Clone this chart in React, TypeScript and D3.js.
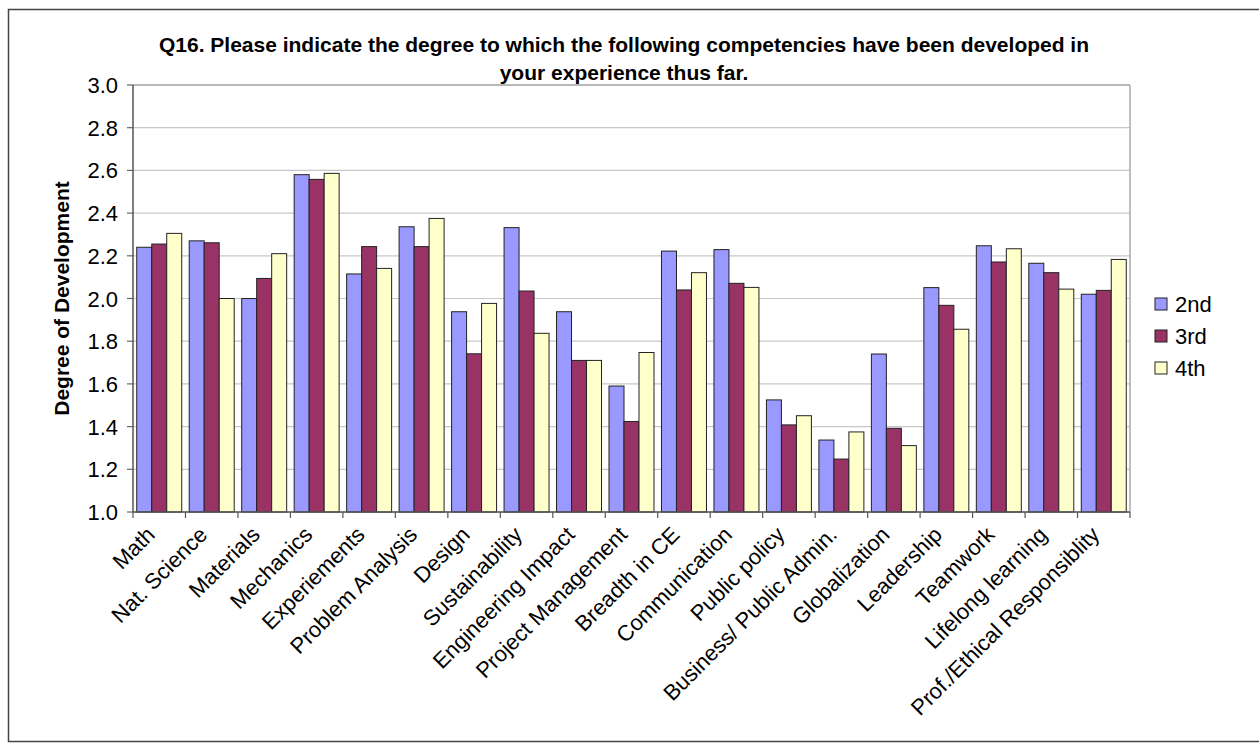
import React from "react";
import * as d3 from "d3";

const categories = [
  "Math", "Nat. Science", "Materials", "Mechanics", "Experiements", "Problem Analysis",
  "Design", "Sustainability", "Engineering Impact", "Project Management", "Breadth in CE",
  "Communication", "Public policy", "Business/ Public Admin.", "Globalization", "Leadership",
  "Teamwork", "Lifelong learning", "Prof./Ethical Responsiblity",
];
const seriesNames = ["2nd", "3rd", "4th"];
const values2nd = [2.24, 2.27, 2.0, 2.58, 2.115, 2.336, 1.938, 2.332, 1.938, 1.59, 2.222, 2.229, 1.525, 1.337, 1.74, 2.051, 2.247, 2.165, 2.02];
const values3rd = [2.255, 2.261, 2.094, 2.558, 2.243, 2.243, 1.741, 2.035, 1.71, 1.424, 2.04, 2.071, 1.408, 1.248, 1.392, 1.968, 2.171, 2.121, 2.038];
const values4th = [2.305, 2.0, 2.21, 2.586, 2.141, 2.375, 1.977, 1.837, 1.71, 1.747, 2.121, 2.052, 1.451, 1.375, 1.311, 1.856, 2.233, 2.044, 2.183];
const yTicks = [1.0, 1.2, 1.4, 1.6, 1.8, 2.0, 2.2, 2.4, 2.6, 2.8, 3.0];
const colors = ["#9999FF", "#993366", "#FFFFCC"];

const W = 1259, H = 744;
const left = 133, right = 1130, top = 85, bottom = 512;
const FONT = "'Liberation Sans', Arial, sans-serif";

export default function App() {
  const series = [values2nd, values3rd, values4th];
  const x = d3.scaleBand<string>().domain(categories).range([left, right]).paddingInner(0).paddingOuter(0);
  const inner = d3.scaleBand<string>().domain(seriesNames).range([0, x.bandwidth()]).paddingInner(0).paddingOuter(0.25);
  const y = d3.scaleLinear().domain([1, 3]).range([bottom, top]);

  return (
    <svg width={W} height={H} style={{ position: "absolute", left: 0, top: 0, background: "#fff" }} fontFamily={FONT}>
      <rect x={8.5} y={9.5} width={1260} height={732} fill="#fff" stroke="#444" strokeWidth={1.5} />
      <text x={624} y={52} textAnchor="middle" fontSize={21} fontWeight="bold">
        Q16. Please indicate the degree to which the following competencies have been developed in
      </text>
      <text x={624} y={80} textAnchor="middle" fontSize={21} fontWeight="bold">
        your experience thus far.
      </text>
      {yTicks.map((t) => (
        <g key={t}>
          <line x1={left} x2={right} y1={y(t)} y2={y(t)} stroke="#c8c8c8" strokeWidth={1.2} />
          <line x1={left - 6} x2={left} y1={y(t)} y2={y(t)} stroke="#666" strokeWidth={1.2} />
          <text x={118} y={y(t) + 8} textAnchor="end" fontSize={22}>{t.toFixed(1)}</text>
        </g>
      ))}
      <line x1={left} x2={right} y1={top} y2={top} stroke="#aaa" strokeWidth={1.5} />
      <line x1={right} x2={right} y1={top} y2={bottom} stroke="#aaa" strokeWidth={1.5} />
      {categories.map((c, i) => (
        <g key={c}>
          {series.map((s, k) => (
            <rect key={k} x={(x(c) as number) + (inner(seriesNames[k]) as number)} y={y(s[i])}
              width={inner.bandwidth()} height={bottom - y(s[i])} fill={colors[k]} stroke="#222" strokeWidth={1} />
          ))}
        </g>
      ))}
      <line x1={left} x2={left} y1={top} y2={bottom} stroke="#555" strokeWidth={1.5} />
      <line x1={left} x2={right} y1={bottom} y2={bottom} stroke="#555" strokeWidth={1.5} />
      {d3.range(categories.length + 1).map((i) => {
        const xx = left + i * x.step();
        return <line key={i} x1={xx} x2={xx} y1={bottom} y2={bottom + 6} stroke="#555" strokeWidth={1.2} />;
      })}
      {categories.map((c) => {
        const cx = (x(c) as number) + x.bandwidth() / 2;
        return (
          <text key={c} transform={`translate(${cx - 3},${bottom + 24}) rotate(-45)`} textAnchor="end" fontSize={22}>
            {c}
          </text>
        );
      })}
      <text transform={`translate(69,${(top + bottom) / 2}) rotate(-90)`} textAnchor="middle" fontSize={21} fontWeight="bold">
        Degree of Development
      </text>
      {seriesNames.map((n, k) => (
        <g key={n}>
          <rect x={1155} y={298 + k * 32} width={12} height={12} fill={colors[k]} stroke="#222" strokeWidth={1} />
          <text x={1175} y={312 + k * 32} fontSize={22}>{n}</text>
        </g>
      ))}
    </svg>
  );
}
